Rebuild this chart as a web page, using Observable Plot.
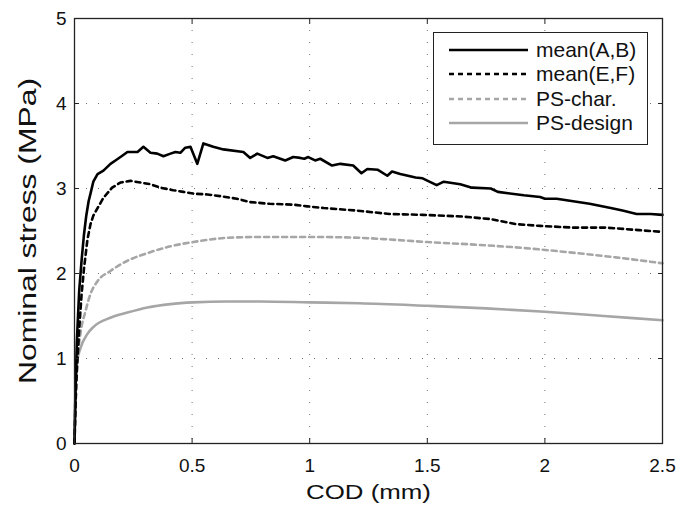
<!DOCTYPE html>
<html>
<head>
<meta charset="utf-8">
<script src="https://cdn.jsdelivr.net/npm/d3@7"></script>
<script src="https://cdn.jsdelivr.net/npm/@observablehq/plot@0.6"></script>
<style>
  html, body { margin: 0; padding: 0; background: #fff; }
  #wrap { position: relative; width: 694px; height: 506px; font-family: "Liberation Sans", Arial, sans-serif; }
  #legend { position: absolute; left: 433px; top: 32px; width: 215px; height: 113px; border: 1px solid #222; background: #fff; box-sizing: border-box; }
  #legend .row { position: absolute; left: 0; height: 24px; display: flex; align-items: center; }
  #legend .row svg { margin-left: 15px; }
  #legend .row span { margin-left: 8px; font-size: 21px; color: #111; }
</style>
</head>
<body>
<div id="wrap"></div>
<script>
// COD (mm) / nominal stress (MPa)
const abX = [0,0.005,0.01,0.02,0.03,0.04,0.05,0.06,0.068,0.08,0.098,0.123,0.153,0.174,0.2,0.225,0.268,0.293,0.323,0.352,0.378,0.408,0.429,0.45,0.471,0.493,0.522,0.548,0.59,0.633,0.718,0.747,0.777,0.82,0.845,0.896,0.93,0.96,0.977,0.994,1.023,1.045,1.095,1.13,1.185,1.22,1.245,1.29,1.33,1.35,1.385,1.45,1.48,1.54,1.57,1.64,1.69,1.77,1.8,1.91,1.98,2.0,2.05,2.19,2.28,2.33,2.39,2.45,2.5];
const abY = [0,0.7,1.2,1.8,2.15,2.45,2.68,2.85,2.94,3.08,3.17,3.21,3.29,3.33,3.38,3.43,3.43,3.49,3.42,3.41,3.38,3.41,3.43,3.42,3.48,3.49,3.29,3.53,3.49,3.46,3.43,3.36,3.41,3.36,3.38,3.33,3.37,3.36,3.35,3.37,3.33,3.35,3.27,3.29,3.27,3.18,3.23,3.22,3.15,3.20,3.17,3.13,3.12,3.04,3.08,3.05,3.01,3.00,2.96,2.92,2.90,2.88,2.88,2.82,2.77,2.74,2.70,2.70,2.69];

const efX = [0,0.005,0.01,0.02,0.03,0.04,0.055,0.068,0.08,0.098,0.123,0.16,0.195,0.238,0.28,0.323,0.365,0.42,0.463,0.505,0.565,0.62,0.69,0.747,0.83,0.93,0.99,1.06,1.2,1.34,1.48,1.65,1.77,1.88,1.98,2.12,2.26,2.4,2.5];
const efY = [0,0.5,0.85,1.35,1.75,2.05,2.4,2.58,2.68,2.77,2.89,3.01,3.07,3.09,3.07,3.05,3.01,2.98,2.96,2.94,2.93,2.91,2.88,2.84,2.82,2.81,2.79,2.77,2.74,2.70,2.69,2.67,2.64,2.58,2.56,2.54,2.54,2.51,2.49];

const charX = [0,0.004,0.012,0.025,0.047,0.068,0.098,0.153,0.225,0.31,0.408,0.505,0.65,0.79,1.0,1.21,1.34,1.5,1.7,1.91,2.1,2.3,2.5];
const charY = [0,0.6,0.97,1.29,1.56,1.76,1.91,2.03,2.15,2.24,2.32,2.37,2.42,2.43,2.43,2.42,2.40,2.37,2.34,2.30,2.25,2.19,2.12];

const designX = [0,0.004,0.012,0.025,0.055,0.08,0.153,0.225,0.31,0.408,0.505,0.65,0.79,1.0,1.21,1.5,1.75,2.0,2.25,2.5];
const designY = [0,0.65,0.97,1.12,1.29,1.37,1.48,1.54,1.60,1.64,1.66,1.67,1.67,1.66,1.65,1.62,1.59,1.55,1.50,1.45];

const xTicks = [0,0.5,1,1.5,2,2.5];
const yTicks = [0,1,2,3,4,5];
const xLabel = "COD (mm)";
const yLabel = "Nominal stress (MPa)";
const seriesNames = ["mean(A,B)","mean(E,F)","PS-char.","PS-design"];

const toRows = (xs, ys) => xs.map((x, i) => ({x, y: ys[i]}));
const ab = toRows(abX, abY), ef = toRows(efX, efY), ch = toRows(charX, charY), de = toRows(designX, designY);

const styles = [
  {stroke: "#000", dash: null},
  {stroke: "#000", dash: "5,4"},
  {stroke: "#a6a6a6", dash: "5,4"},
  {stroke: "#a6a6a6", dash: null}
];

const gridStyle = {stroke: "#000", strokeOpacity: 0.55, strokeWidth: 1, strokeDasharray: "1,11"};

const chart = Plot.plot({
  width: 694,
  height: 506,
  marginLeft: 74,
  marginRight: 32,
  marginTop: 18,
  marginBottom: 63,
  style: {fontFamily: "'Liberation Sans', Arial, sans-serif", fontSize: "19px", color: "#111", background: "#fff"},
  x: {domain: [0, 2.5], axis: null},
  y: {domain: [0, 5], axis: null},
  marks: [
    Plot.gridX(xTicks, gridStyle),
    Plot.gridY(yTicks, gridStyle),
    Plot.line(de, {x: "x", y: "y", stroke: styles[3].stroke, strokeWidth: 2.6, curve: "monotone-x"}),
    Plot.line(ch, {x: "x", y: "y", stroke: styles[2].stroke, strokeWidth: 2.6, strokeDasharray: styles[2].dash, curve: "monotone-x"}),
    Plot.line(ef, {x: "x", y: "y", stroke: styles[1].stroke, strokeWidth: 2.6, strokeDasharray: styles[1].dash}),
    Plot.line(ab, {x: "x", y: "y", stroke: styles[0].stroke, strokeWidth: 2.6}),
    Plot.frame({stroke: "#222", strokeWidth: 1.3}),
    Plot.axisX(xTicks, {anchor: "bottom", tickSize: -5, tickPadding: 20, stroke: "#222", label: null, tickFormat: d => String(d)}),
    Plot.axisX(xTicks, {anchor: "top", tickSize: -5, stroke: "#222", label: null, tickFormat: () => ""}),
    Plot.axisY(yTicks, {anchor: "left", tickSize: -5, tickPadding: 13, stroke: "#222", label: null, tickFormat: d => String(d)}),
    Plot.axisY(yTicks, {anchor: "right", tickSize: -5, stroke: "#222", label: null, tickFormat: () => ""}),
    Plot.text([xLabel], {frameAnchor: "bottom", dy: 55, fontSize: 21, fill: "#111", lineAnchor: "bottom", className: "xlab"}),
    Plot.text([yLabel], {frameAnchor: "left", dx: -46, rotate: -90, fontSize: 23, fill: "#111", className: "ylab"})
  ]
});

// stretch axis titles to the reference's measured lengths (anchored explicitly)
function stretch(sel, len) {
  chart.querySelectorAll(sel).forEach(t => {
    t.setAttribute("text-anchor", "start");
    t.style.textAnchor = "start";
    t.setAttribute("x", -len / 2);
    t.setAttribute("textLength", len);
    t.setAttribute("lengthAdjust", "spacingAndGlyphs");
  });
  chart.querySelectorAll(sel.replace(" text", "")).forEach(g => g.setAttribute("text-anchor", "start"));
}
stretch(".xlab text", 125);
stretch(".ylab text", 306);

const wrap = document.getElementById("wrap");
wrap.appendChild(chart);

// legend
const legend = document.createElement("div");
legend.id = "legend";
seriesNames.forEach((name, i) => {
  const row = document.createElement("div");
  row.className = "row";
  row.style.top = (5 + i * 24.3) + "px";
  const s = styles[i];
  row.innerHTML = `<svg width="79" height="6"><line x1="0" x2="79" y1="3" y2="3" stroke="${s.stroke}" stroke-width="2.6" ${s.dash ? `stroke-dasharray="${s.dash}"` : ""}/></svg><span>${name}</span>`;
  legend.appendChild(row);
});
wrap.appendChild(legend);
</script>
</body>
</html>
